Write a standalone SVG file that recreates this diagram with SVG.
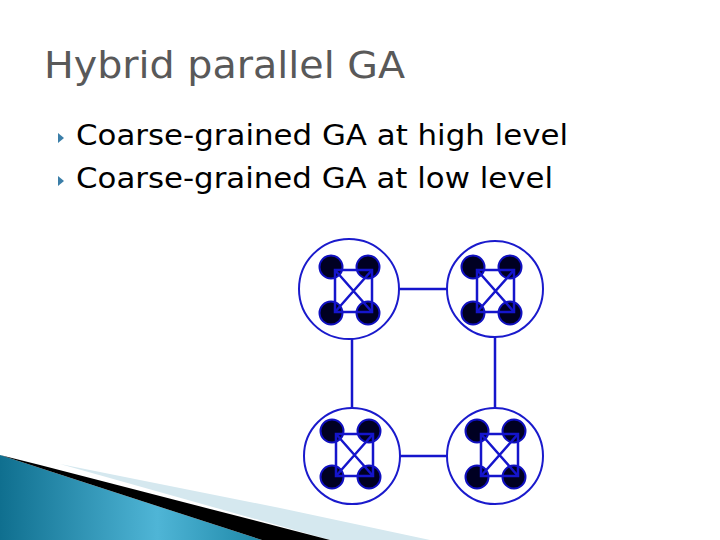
<svg xmlns="http://www.w3.org/2000/svg" width="720" height="540" viewBox="0 0 720 540">
<style>
.t{font-family:"DejaVu Sans",sans-serif;fill:#000}
.ring{fill:#fff;stroke:#1a1acc;stroke-width:2}
.dot{fill:#000022;stroke:#1010c0;stroke-width:2}
.ln{stroke:#1515cc;stroke-width:2.5;fill:none}
.bul{fill:#3b7ea8}
</style>
<defs>
<linearGradient id="g" x1="0" y1="0" x2="1" y2="0">
<stop offset="0" stop-color="#0f6f8f"/><stop offset="0.6" stop-color="#4fb5d6"/><stop offset="1" stop-color="#1e88a8"/>
</linearGradient>
<g id="cl">
<circle class="dot" cx="-18" cy="-22" r="11.5"/><circle class="dot" cx="19" cy="-22" r="11.5"/>
<circle class="dot" cx="-18" cy="24" r="11.5"/><circle class="dot" cx="19" cy="24" r="11.5"/>
<rect class="ln" x="-14" y="-19" width="37" height="42"/>
<path class="ln" d="M-14 -19L23 23M23 -19L-14 23" stroke-width="1.5"/>
</g>
</defs>
<rect width="720" height="540" fill="#fff"/>
<polygon points="60,464 280,508 430,540 330,540" fill="#d5e8ef"/>
<polygon points="0,455 0,540 262,540 40,468" fill="url(#g)"/>
<polygon points="0,455 40,465 330,540 262,540 40,468" fill="#000"/>
<text class="t" x="44" y="78" font-size="38" textLength="361" lengthAdjust="spacingAndGlyphs" style="fill:#595959">Hybrid parallel GA</text>
<polygon class="bul" points="58,133 64,138 58,143"/>
<polygon class="bul" points="58,176 64,181 58,186"/>
<text class="t" x="76" y="145" font-size="28" textLength="492" lengthAdjust="spacingAndGlyphs">Coarse-grained GA at high level</text>
<text class="t" x="76" y="188" font-size="28" textLength="477" lengthAdjust="spacingAndGlyphs">Coarse-grained GA at low level</text>
<g id="connectors">
<path class="ln" d="M399 289H447M400 456H447M352 339V408M495 337V408"/>
</g>
<g id="n1"><circle class="ring" cx="349" cy="289" r="50"/><use href="#cl" x="349" y="289"/></g>
<g id="n2"><circle class="ring" cx="495" cy="289" r="48"/><use href="#cl" x="491" y="289"/></g>
<g id="n3"><circle class="ring" cx="352" cy="456" r="48"/><use href="#cl" x="350" y="453"/></g>
<g id="n4"><circle class="ring" cx="495" cy="456" r="48"/><use href="#cl" x="495" y="453"/></g>
</svg>
